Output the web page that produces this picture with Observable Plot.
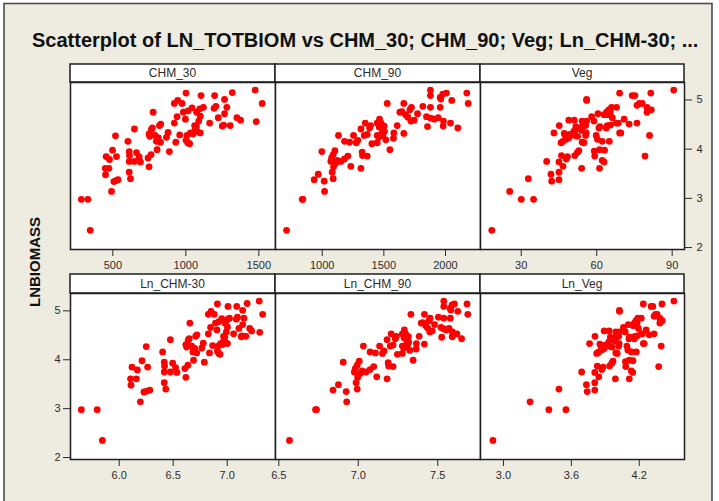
<!DOCTYPE html>
<html>
<head>
<meta charset="utf-8">
<script src="https://cdn.jsdelivr.net/npm/d3@7"></script>
<script src="https://cdn.jsdelivr.net/npm/@observablehq/plot@0.6"></script>
<style>
html,body{margin:0;padding:0;background:#ffffff;}
#chart{position:relative;width:719px;height:501px;overflow:hidden;}
#chart svg.panel{position:absolute;}
</style>
</head>
<body>
<div id="chart"></div>
<script>
// ---------------- DATA ----------------
const titleText = "Scatterplot of LN_TOTBIOM vs CHM_30; CHM_90; Veg; Ln_CHM-30; ...";
const yLabel = "LNBIOMASS";
const panelNames = ["CHM_30", "CHM_90", "Veg", "Ln_CHM-30", "Ln_CHM_90", "Ln_Veg"];

const yTicks = [2, 3, 4, 5];
const ticksChm30 = [500, 1000, 1500];
const ticksChm90 = [1000, 1500, 2000];
const ticksVeg = [30, 60, 90];
const ticksLnChm30 = [6.0, 6.5, 7.0];
const ticksLnChm90 = [6.5, 7.0, 7.5];
const ticksLnVeg = [3.0, 3.6, 4.2];

// CHM_30 panel observations
const chm30 = [1475,1523,1318,1197,1104,1001,1265,944,921,974,1281,1193,1206,1120,1095,1042,1015,983,1074,776,940,997,1265,1222,1350,1375,1482,1304,1249,1259,1163,1099,1088,1072,1060,921,828,819,648,771,764,748,753,789,812,826,798,867,878,958,1008,1031,1049,1099,1063,1076,931,1001,1026,1013,518,603,498,454,477,525,612,662,680,689,648,612,614,762,741,803,887,748,448,473,450,612,621,507,521,536,491,284,329,345];
const lnChm30 = [7.296,7.328,7.184,7.088,7.007,6.909,7.143,6.850,6.825,6.881,7.155,7.084,7.095,7.021,6.999,6.949,6.923,6.891,6.979,6.654,6.846,6.905,7.143,7.108,7.208,7.226,7.301,7.173,7.130,7.138,7.059,7.002,6.992,6.977,6.966,6.825,6.719,6.708,6.474,6.648,6.639,6.617,6.624,6.671,6.699,6.717,6.682,6.765,6.778,6.865,6.916,6.938,6.956,7.002,6.969,6.981,6.836,6.909,6.933,6.921,6.250,6.402,6.211,6.118,6.168,6.263,6.417,6.495,6.522,6.535,6.474,6.417,6.420,6.636,6.608,6.688,6.788,6.617,6.105,6.159,6.109,6.417,6.431,6.229,6.256,6.284,6.196,5.649,5.796,5.844];
const biomassA = [5.20,4.93,5.15,5.09,5.09,5.14,5.01,4.99,4.93,4.93,4.85,4.83,4.87,4.85,4.82,4.84,4.78,4.75,4.75,4.75,4.66,4.61,4.72,4.64,4.64,4.59,4.56,4.48,4.47,4.49,4.53,4.67,4.57,4.46,4.48,4.53,4.51,4.48,4.41,4.43,4.40,4.31,4.26,4.28,4.23,4.14,4.16,4.24,4.34,4.29,4.28,4.33,4.31,4.33,4.40,4.36,4.14,4.18,4.11,4.13,4.27,4.16,3.98,3.85,3.79,3.85,3.95,3.93,3.84,3.74,3.75,3.75,3.87,3.89,3.82,3.99,3.95,3.64,3.61,3.61,3.48,3.53,3.40,3.34,3.36,3.38,3.14,2.98,2.98,2.35];

// CHM_90 panel observations
const chm90 = [1878,1878,1978,2008,1962,1957,2173,2184,2051,1527,1662,1816,1878,1957,1724,1711,1646,1630,1676,1695,1773,1719,1746,1846,1881,1911,1941,1854,1984,1981,2041,2100,1465,1446,1392,1384,1349,1314,1478,1462,1503,1608,1487,1446,1460,1505,1492,1516,1581,1578,1662,1446,1403,1341,1365,1254,1289,1276,1222,1181,1132,997,1103,1089,1076,1070,1122,1111,1151,1181,1208,1324,1365,1327,1232,1314,1549,1092,1081,968,935,1016,1089,1019,838,843,711];
const lnChm90 = [7.538,7.538,7.590,7.605,7.582,7.579,7.684,7.689,7.626,7.331,7.416,7.504,7.538,7.579,7.452,7.445,7.406,7.396,7.424,7.436,7.480,7.450,7.465,7.521,7.540,7.555,7.571,7.525,7.593,7.591,7.621,7.650,7.290,7.277,7.239,7.233,7.207,7.181,7.298,7.288,7.315,7.383,7.305,7.277,7.286,7.317,7.308,7.324,7.366,7.364,7.416,7.277,7.246,7.201,7.219,7.134,7.162,7.152,7.108,7.074,7.032,6.905,7.006,6.993,6.981,6.975,7.023,7.013,7.049,7.074,7.097,7.188,7.219,7.191,7.116,7.181,7.345,6.996,6.986,6.875,6.841,6.924,6.993,6.927,6.731,6.737,6.567];
const biomassB = [5.20,5.09,5.12,5.14,5.02,5.05,5.14,4.93,4.99,4.93,4.93,4.87,4.85,4.85,4.85,4.80,4.76,4.75,4.70,4.65,4.72,4.57,4.59,4.66,4.63,4.61,4.64,4.46,4.57,4.47,4.53,4.43,4.61,4.53,4.48,4.43,4.53,4.41,4.53,4.45,4.47,4.48,4.34,4.28,4.24,4.36,4.28,4.19,4.33,4.22,4.32,4.13,4.11,4.28,4.30,4.28,4.18,4.13,4.14,4.16,4.28,3.95,3.97,3.89,3.82,3.75,3.77,3.72,3.75,3.80,3.86,3.94,3.86,3.87,3.65,3.61,3.99,3.64,3.53,3.49,3.38,3.35,3.40,3.14,2.98,2.98,2.35];

// Veg panel observations
const veg = [90.6,81.5,69.1,74.1,75.2,56.0,56.0,76.0,77.0,78.1,80.0,81.7,80.0,67.9,65.9,64.8,65.4,63.9,64.6,62.9,66.2,70.9,72.9,76.0,68.6,67.8,65.5,64.2,63.8,60.9,61.3,60.5,58.0,58.9,56.0,54.2,51.1,48.9,51.7,51.7,54.2,54.0,55.6,55.6,55.8,52.4,51.2,50.9,49.2,47.5,47.1,48.9,47.9,46.6,45.8,45.1,43.0,54.2,54.9,59.8,60.3,62.2,65.0,69.6,69.1,81.0,63.1,61.1,59.0,59.2,52.9,52.3,51.3,48.4,47.9,46.0,45.0,46.6,45.0,40.1,41.8,42.1,45.0,54.0,61.1,62.2,62.9,79.2,32.8,25.4,30.0,34.9,18.3];
const lnVeg = [4.506,4.401,4.236,4.305,4.320,4.025,4.025,4.331,4.344,4.358,4.382,4.403,4.382,4.218,4.188,4.171,4.181,4.157,4.168,4.142,4.193,4.261,4.289,4.331,4.228,4.217,4.182,4.162,4.156,4.109,4.116,4.103,4.060,4.076,4.025,3.993,3.934,3.890,3.945,3.945,3.993,3.989,4.018,4.018,4.022,3.959,3.936,3.930,3.896,3.861,3.852,3.890,3.869,3.842,3.824,3.809,3.761,3.993,4.005,4.091,4.099,4.130,4.174,4.243,4.236,4.394,4.145,4.112,4.078,4.081,3.968,3.957,3.938,3.880,3.869,3.829,3.807,3.842,3.807,3.691,3.733,3.740,3.807,3.989,4.112,4.130,4.142,4.372,3.490,3.235,3.401,3.552,2.907];
const biomassC = [5.20,5.14,5.14,5.09,5.09,5.01,4.99,4.89,4.93,4.93,4.85,4.80,4.75,4.85,4.85,4.80,4.75,4.75,4.70,4.70,4.64,4.61,4.51,4.53,4.53,4.53,4.49,4.48,4.43,4.43,4.46,4.72,4.66,4.57,4.57,4.57,4.59,4.59,4.46,4.40,4.46,4.38,4.48,4.28,4.33,4.26,4.28,4.36,4.30,4.28,4.32,4.23,4.20,4.16,4.13,4.48,4.33,4.14,4.13,4.28,4.20,4.16,4.16,4.33,4.33,4.28,3.98,3.99,3.96,3.86,3.97,3.93,3.87,3.85,3.80,3.87,3.74,3.65,3.53,3.75,3.49,3.35,3.38,3.61,3.61,3.77,3.74,3.86,3.40,3.14,2.98,2.98,2.35];

// ---------------- LAYOUT ----------------
const W = 719, H = 501;
const colX = [70, 275, 480, 684];
const rows = [
  {stripTop: 64, plotTop: 82, plotBottom: 249},
  {stripTop: 274, plotTop: 293, plotBottom: 459}
];
const yDomain = [1.96, 5.355];
const FONT = "'Liberation Sans', Arial, Helvetica, sans-serif";

const chart = document.getElementById("chart");
const ns = "http://www.w3.org/2000/svg";
const bg = document.createElementNS(ns, "svg");
bg.setAttribute("width", W); bg.setAttribute("height", H);
bg.style.position = "absolute"; bg.style.left = "0px"; bg.style.top = "0px";
function el(tag, attrs, text) {
  const e = document.createElementNS(ns, tag);
  for (const k in attrs) e.setAttribute(k, attrs[k]);
  if (text != null) e.textContent = text;
  bg.appendChild(e);
  return e;
}
el("rect", {x: 4, y: 3.5, width: 708, height: 510, fill: "#EEEBE1", stroke: "#4d4d4d", "stroke-width": 1.6});
el("text", {x: 32, y: 47, "font-family": FONT, "font-size": 20, "font-weight": "bold", fill: "#111"}, titleText);
el("text", {x: 0, y: 0, transform: "translate(40,262) rotate(-90)", "text-anchor": "middle", "font-family": FONT, "font-size": 15, "font-weight": "bold", fill: "#111"}, yLabel);

// strips
panelNames.forEach((name, k) => {
  const r = rows[Math.floor(k / 3)], c = k % 3;
  const x0 = colX[c], x1 = colX[c + 1];
  el("rect", {x: x0, y: r.stripTop, width: x1 - x0, height: r.plotTop - r.stripTop, fill: "#ffffff", stroke: "#1e1e1e", "stroke-width": 1.5});
  el("text", {x: (x0 + x1) / 2, y: (r.stripTop + r.plotTop) / 2 + 4.2, "text-anchor": "middle", "font-family": FONT, "font-size": 12, fill: "#2a2a2a"}, name);
});
chart.appendChild(bg);

const fmtInt = d3.format("d");
const fmt1 = d3.format(".1f");
const specs = [
  {xs: chm30, ys: biomassA, dom: [210, 1614], ticks: ticksChm30, fmt: fmtInt, yAxis: null},
  {xs: chm90, ys: biomassB, dom: [621, 2284], ticks: ticksChm90, fmt: fmtInt, yAxis: null},
  {xs: veg, ys: biomassC, dom: [13.8, 94.9], ticks: ticksVeg, fmt: fmtInt, yAxis: "right"},
  {xs: lnChm30, ys: biomassA, dom: [5.549, 7.447], ticks: ticksLnChm30, fmt: fmt1, yAxis: "left"},
  {xs: lnChm90, ys: biomassB, dom: [6.479, 7.769], ticks: ticksLnChm90, fmt: fmt1, yAxis: null},
  {xs: lnVeg, ys: biomassC, dom: [2.797, 4.600], ticks: ticksLnVeg, fmt: fmt1, yAxis: null}
];

const M = 36;
specs.forEach((s, k) => {
  const r = rows[Math.floor(k / 3)], c = k % 3;
  const x0 = colX[c], x1 = colX[c + 1];
  const w = x1 - x0, h = r.plotBottom - r.plotTop;
  const idx = d3.range(s.xs.length);
  const p = Plot.plot({
    width: w + 2 * M,
    height: h + M + 2,
    marginLeft: M, marginRight: M, marginTop: 2, marginBottom: M,
    style: {background: "transparent", fontSize: "11px", fontFamily: FONT, color: "#2b2b2b", overflow: "visible"},
    x: {domain: s.dom, ticks: s.ticks, tickFormat: s.fmt, tickSize: 7, tickPadding: 5, label: null},
    y: {domain: yDomain, axis: s.yAxis, ticks: yTicks, tickFormat: fmtInt, tickSize: 7, tickPadding: s.yAxis === "right" ? 5 : 3, label: null},
    marks: [
      Plot.frame({fill: "#ffffff", stroke: "none"}),
      Plot.dot(idx, {x: i => s.xs[i], y: i => s.ys[i], r: 3.4, fill: "#ff0000"}),
      Plot.frame({stroke: "#1e1e1e", strokeWidth: 1.5})
    ]
  });
  p.classList.add("panel");
  p.style.left = (x0 - M) + "px";
  p.style.top = (r.plotTop - 2) + "px";
  chart.appendChild(p);
});
</script>
</body>
</html>
